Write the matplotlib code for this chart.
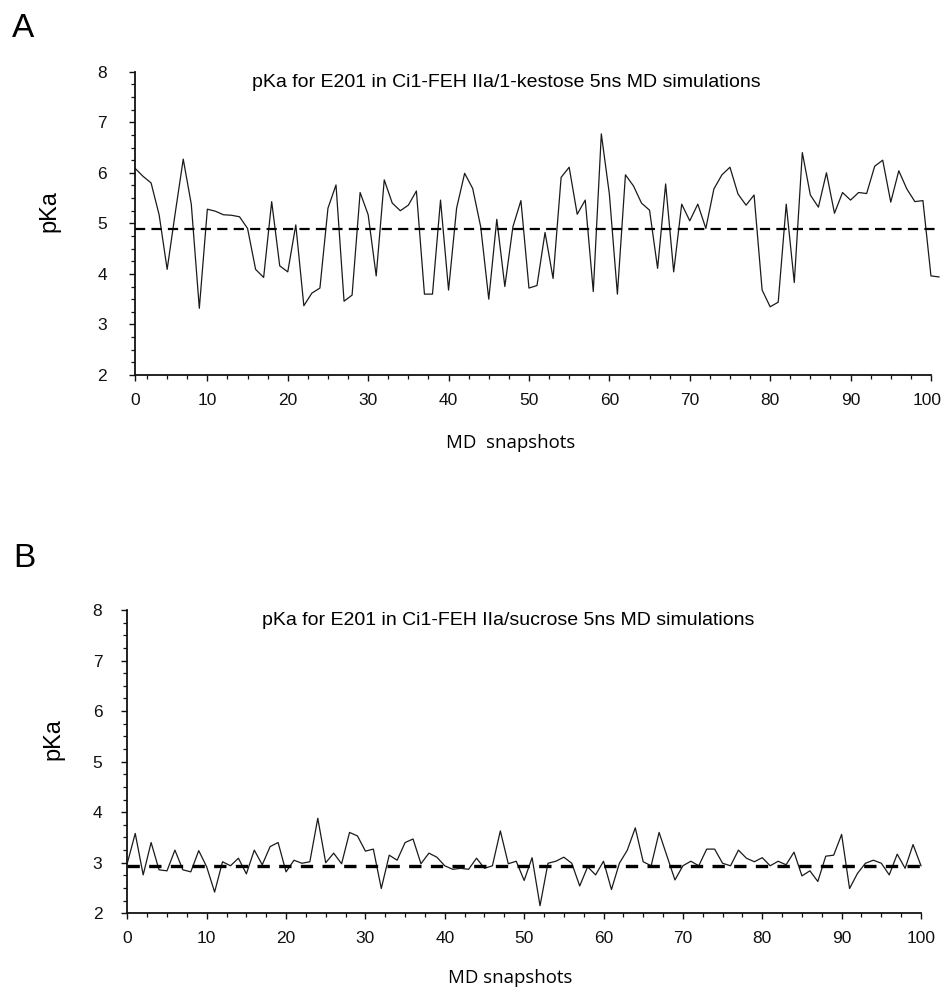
import numpy as np
import matplotlib
matplotlib.use('Agg')
import matplotlib.pyplot as plt
import matplotlib.transforms as mtransforms
from matplotlib.ticker import MultipleLocator, FixedLocator

plt.rcParams['font.family'] = ['Liberation Sans', 'DejaVu Sans']

# ---- data ----
snap_a = np.arange(1, 102)
pka_a = [6.09, 5.93, 5.80, 5.17, 4.09, 5.20, 6.27, 5.38, 3.32, 5.28,
         5.24, 5.17, 5.16, 5.13, 4.90, 4.09, 3.93, 5.43, 4.16, 4.04,
         4.97, 3.37, 3.62, 3.72, 5.30, 5.76, 3.46, 3.58, 5.61, 5.17,
         3.96, 5.86, 5.40, 5.25, 5.36, 5.64, 3.60, 3.60, 5.46, 3.68,
         5.30, 5.99, 5.69, 4.93, 3.50, 5.08, 3.75, 4.93, 5.45, 3.72,
         3.77, 4.82, 3.91, 5.91, 6.11, 5.18, 5.46, 3.65, 6.77, 5.58,
         3.60, 5.96, 5.74, 5.40, 5.26, 4.11, 5.78, 4.04, 5.38, 5.05,
         5.38, 4.90, 5.68, 5.96, 6.11, 5.58, 5.36, 5.56, 3.68, 3.35,
         3.44, 5.38, 3.83, 6.40, 5.56, 5.32, 6.00, 5.20, 5.61, 5.46,
         5.61, 5.59, 6.13, 6.25, 5.42, 6.04, 5.68, 5.43, 5.45, 3.96,
         3.94]
mean_a = 4.89

snap_b = np.arange(0, 101)
pka_b = [2.99, 3.58, 2.76, 3.40, 2.86, 2.84, 3.25, 2.86, 2.82, 3.24,
         2.92, 2.42, 3.02, 2.94, 3.09, 2.78, 3.25, 2.96, 3.32, 3.40,
         2.82, 3.05, 2.99, 3.02, 3.88, 3.00, 3.19, 2.98, 3.60, 3.53,
         3.23, 3.27, 2.49, 3.15, 3.05, 3.40, 3.47, 2.98, 3.19, 3.11,
         2.94, 2.87, 2.89, 2.87, 3.09, 2.89, 2.94, 3.63, 2.98, 3.03,
         2.65, 3.10, 2.15, 2.99, 3.03, 3.11, 2.99, 2.54, 2.92, 2.76,
         3.03, 2.47, 2.99, 3.25, 3.69, 3.02, 2.94, 3.60, 3.13, 2.66,
         2.94, 3.03, 2.94, 3.27, 3.27, 2.99, 2.94, 3.25, 3.09, 3.02,
         3.10, 2.94, 3.03, 2.96, 3.21, 2.74, 2.84, 2.63, 3.13, 3.15,
         3.56, 2.49, 2.79, 2.99, 3.05, 2.99, 2.76, 3.17, 2.89, 3.36,
         2.94]
mean_b = 2.94

x_tick_labels = ['0', '10', '20', '30', '40', '50', '60', '70', '80', '90', '100']
x_ticks_a = [1, 10, 20, 30, 40, 50, 60, 70, 80, 90, 100]
x_ticks_b = [0, 10, 20, 30, 40, 50, 60, 70, 80, 90, 100]
y_ticks = [2, 3, 4, 5, 6, 7, 8]

title_a = 'pKa for E201 in Ci1-FEH IIa/1-kestose 5ns MD simulations'
title_b = 'pKa for E201 in Ci1-FEH IIa/sucrose 5ns MD simulations'
xlabel_a = 'MD  snapshots'
xlabel_b = 'MD snapshots'
ylabel = 'pKa'

W, H = 944, 994
fig = plt.figure(figsize=(W / 100, H / 100), dpi=100)


def fx(px):
    return px / W


def fy(py):
    return 1 - py / H


def style(ax, ypad):
    for s in ['top', 'right']:
        ax.spines[s].set_visible(False)
    for s in ['left', 'bottom']:
        ax.spines[s].set_linewidth(1.3)
        ax.spines[s].set_color('#111111')
    ax.set_ylim(2, 8)
    ax.yaxis.set_major_locator(FixedLocator(y_ticks))
    ax.yaxis.set_minor_locator(MultipleLocator(0.25))
    ax.xaxis.set_minor_locator(MultipleLocator(2.5))
    ax.tick_params(which='major', direction='out', length=4.5, width=1.0,
                   labelsize=12.5, colors='#111111')
    ax.tick_params(which='minor', direction='out', length=2.7, width=0.9,
                   colors='#111111')
    ax.tick_params(axis='y', which='major', pad=ypad)
    ax.tick_params(axis='x', which='major', pad=8.5)
    ax.set_facecolor('none')


# ---- Panel A ----
axA = fig.add_axes([fx(135), fy(375), fx(939) - fx(135), (375 - 71.7) / H])
axA.plot(snap_a, pka_a, color='#1a1a1a', lw=0.9, clip_on=False)
axA.plot([snap_a[0], snap_a[-1]], [mean_a, mean_a], color='black', lw=1.6,
         dashes=(4.6, 2.8), clip_on=False)
axA.set_xlim(1, 101)
style(axA, 15.5)
axA.set_xticks(x_ticks_a)
axA.set_xticklabels(x_tick_labels)
axA.spines['bottom'].set_bounds(1, 100)
# keep the last label inside the picture
last = axA.get_xticklabels()[-1]
last.set_transform(last.get_transform() +
                   mtransforms.ScaledTranslation(-4 / 100, 0, fig.dpi_scale_trans))

# ---- Panel B ----
axB = fig.add_axes([fx(127.3), fy(913.3), fx(921) - fx(127.3), (913.3 - 610) / H])
axB.plot(snap_b, pka_b, color='#1a1a1a', lw=0.9, clip_on=False)
axB.plot([snap_b[0], snap_b[-1]], [mean_b, mean_b], color='black', lw=2.4,
         dashes=(3.7, 2.8), clip_on=False)
axB.set_xlim(0, 100)
style(axB, 13.5)
axB.set_xticks(x_ticks_b)
axB.set_xticklabels(x_tick_labels)

# ---- texts ----
fig.text(fx(506.5), fy(86.7), title_a, ha='center', va='baseline', fontsize=14)
fig.text(fx(508), fy(625), title_b, ha='center', va='baseline', fontsize=14)

fig.text(fx(511), fy(447.7), xlabel_a, ha='center', va='baseline',
         fontsize=13.4, family=['Open Sans', 'DejaVu Sans'])
fig.text(fx(510), fy(983.3), xlabel_b, ha='center', va='baseline',
         fontsize=13.4, family=['Open Sans', 'DejaVu Sans'])

fig.text(fx(49), fy(211), ylabel, rotation=90, ha='center', va='center', fontsize=17)
fig.text(fx(53), fy(739), ylabel, rotation=90, ha='center', va='center', fontsize=17)

fig.text(fx(12), fy(36.7), 'A', ha='left', va='baseline', fontsize=24)
fig.text(fx(13), fy(567), 'B', ha='left', va='baseline', fontsize=24)

fig.savefig('out.png', dpi=100, facecolor='white')
